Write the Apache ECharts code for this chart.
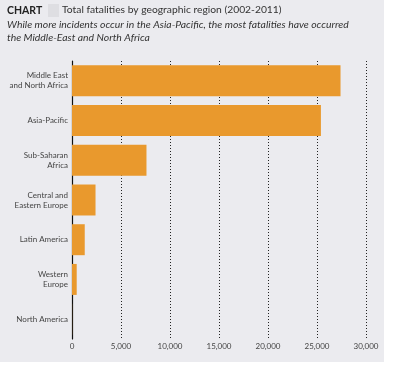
<!DOCTYPE html>
<html><head><meta charset="utf-8">
<script src="https://cdn.jsdelivr.net/npm/echarts@6/dist/echarts.min.js"></script>
<style>html,body{margin:0;padding:0;background:#fff}#c{width:401px;height:374px}</style>
</head><body><div id="c"></div>
<script>
const categories = ['Middle East\nand North Africa', 'Asia-Pacific', 'Sub-Saharan\nAfrica', 'Central and\nEastern Europe', 'Latin America', 'Western\nEurope', 'North America'];
const fatalities = [27400, 25400, 7600, 2400, 1300, 480, 10];
const tickValues = [0, 5000, 10000, 15000, 20000, 25000, 30000];

const chart = echarts.init(document.getElementById('c'), null, {renderer: 'canvas'});
const FONT = 'Lato, "Open Sans", sans-serif';
chart.setOption({
  backgroundColor: '#ffffff',
  animation: false,
  graphic: [
    {type: 'rect', z: -10, shape: {x: 0, y: 0, width: 384, height: 362}, style: {fill: '#ebebef'}},
    {type: 'rect', z: -5, shape: {x: 48, y: 4, width: 11, height: 13}, style: {fill: '#dedee2'}},
    {type: 'text', left: 7, top: 5, style: {text: 'CHART', font: 'bold 10.5px ' + FONT, fill: '#222'}},
    {type: 'text', left: 62, top: 5, style: {text: 'Total fatalities by geographic region (2002-2011)', font: '10.3px ' + FONT, fill: '#333'}},
    {type: 'text', left: 7, top: 18, style: {text: 'While more incidents occur in the Asia-Pacific, the most fatalities have occurred\nthe Middle-East and North Africa', font: 'italic 10.4px ' + FONT, fill: '#333', lineHeight: 13}}
  ],
  grid: {left: 72, right: 35, top: 61, bottom: 35, containLabel: false},
  xAxis: {
    type: 'value', min: 0, max: 30000, interval: 5000,
    axisLine: {show: false}, axisTick: {show: false},
    axisLabel: {color: '#444', fontSize: 8, fontFamily: FONT, margin: 3,
      formatter: v => tickValues.includes(v) ? v.toLocaleString('en-US') : ''},
    splitLine: {show: true, lineStyle: {color: '#222', type: [1, 2], width: 1}}
  },
  yAxis: {
    type: 'category', data: categories, inverse: true,
    axisLine: {show: true, lineStyle: {color: '#111', width: 1.2}},
    axisTick: {show: false},
    axisLabel: {color: '#444', fontSize: 8, fontFamily: FONT, margin: 4, lineHeight: 10, align: 'right'}
  },
  series: [{
    type: 'bar', data: fatalities, barCategoryGap: '22%',
    itemStyle: {color: '#e9992d'}
  }]
});
</script></body></html>
